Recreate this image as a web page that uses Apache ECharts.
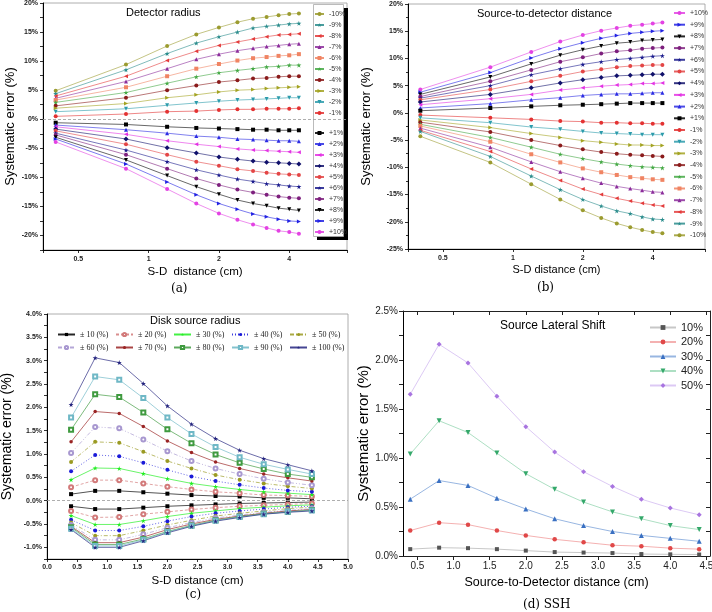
<!DOCTYPE html>
<html lang="en">
<head>
<meta charset="utf-8">
<title>Systematic error vs S-D distance</title>
<script src="https://cdn.jsdelivr.net/npm/echarts@6/dist/echarts.min.js"></script>
<style>
  html, body { margin: 0; padding: 0; background: #fff; }
  #chart { width: 712px; height: 612px; }
</style>
</head>
<body>
<div id="chart"></div>
<script>
// source-to-detector distances (cm), shared by all four panels
var distances = [0.4, 0.8, 1.2, 1.6, 2.0, 2.4, 2.8, 3.2, 3.6, 4.0, 4.4];

// (a) detector radius
var detLabels = ['-10%', '-9%', '-8%', '-7%', '-6%', '-5%', '-4%', '-3%', '-2%', '-1%',
                 '+1%', '+2%', '+3%', '+4%', '+5%', '+6%', '+7%', '+8%', '+9%', '+10%'];
var detValues = [
  [4.9, 9.4, 12.6, 14.6, 15.8, 16.7, 17.3, 17.6, 17.9, 18.1, 18.2],
  [4.4, 8.5, 11.3, 13.1, 14.2, 15.0, 15.7, 16.0, 16.2, 16.4, 16.5],
  [4.0, 7.4, 10.1, 11.7, 12.7, 13.3, 13.8, 14.2, 14.5, 14.6, 14.7],
  [3.6, 6.5, 8.7, 10.3, 11.2, 11.8, 12.2, 12.5, 12.7, 12.9, 13.0],
  [3.3, 5.5, 7.4, 8.7, 9.5, 10.1, 10.5, 10.7, 10.9, 11.0, 11.2],
  [2.9, 4.6, 6.2, 7.3, 8.0, 8.4, 8.7, 9.0, 9.1, 9.3, 9.3],
  [2.3, 3.7, 5.0, 5.8, 6.4, 6.7, 7.0, 7.1, 7.3, 7.4, 7.4],
  [1.9, 2.7, 3.7, 4.2, 4.7, 5.0, 5.1, 5.3, 5.4, 5.5, 5.6],
  [1.3, 1.8, 2.4, 2.8, 3.1, 3.3, 3.4, 3.5, 3.6, 3.7, 3.7],
  [0.5, 0.9, 1.3, 1.4, 1.6, 1.7, 1.7, 1.8, 1.8, 1.8, 1.9],
  [-0.6, -0.9, -1.3, -1.5, -1.6, -1.7, -1.8, -1.8, -1.9, -1.9, -1.9],
  [-1.0, -1.8, -2.4, -2.9, -3.1, -3.4, -3.5, -3.6, -3.7, -3.7, -3.8],
  [-1.3, -2.6, -3.7, -4.3, -4.7, -5.1, -5.3, -5.4, -5.5, -5.6, -5.7],
  [-1.7, -3.4, -4.9, -5.8, -6.5, -6.9, -7.2, -7.4, -7.5, -7.6, -7.7],
  [-2.0, -4.3, -6.1, -7.3, -8.0, -8.6, -8.9, -9.2, -9.4, -9.5, -9.6],
  [-2.4, -5.3, -7.3, -8.7, -9.6, -10.3, -10.7, -11.1, -11.3, -11.5, -11.6],
  [-2.7, -6.1, -8.5, -10.2, -11.3, -12.1, -12.6, -13.0, -13.3, -13.5, -13.6],
  [-3.1, -7.0, -9.7, -11.6, -12.9, -13.9, -14.5, -14.9, -15.3, -15.5, -15.7],
  [-3.4, -7.7, -10.8, -13.0, -14.5, -15.5, -16.3, -16.8, -17.2, -17.5, -17.6],
  [-3.9, -8.5, -12.0, -14.5, -16.2, -17.3, -18.1, -18.7, -19.2, -19.4, -19.7]
];

// (b) source-to-detector distance
var sdLabels = ['+10%', '+9%', '+8%', '+7%', '+6%', '+5%', '+4%', '+3%', '+2%', '+1%',
                '-1%', '-2%', '-3%', '-4%', '-5%', '-6%', '-7%', '-8%', '-9%', '-10%'];
var sdValues = [
  [4.3, 8.4, 11.2, 13.1, 14.3, 15.1, 15.6, 16.0, 16.2, 16.4, 16.6],
  [3.8, 7.4, 10.1, 11.8, 12.9, 13.7, 14.2, 14.6, 14.8, 15.0, 15.1],
  [3.4, 6.6, 9.0, 10.6, 11.6, 12.3, 12.8, 13.0, 13.3, 13.4, 13.5],
  [3.0, 5.8, 7.9, 9.4, 10.2, 10.9, 11.3, 11.5, 11.8, 11.9, 12.0],
  [2.7, 5.0, 7.0, 8.1, 8.9, 9.4, 9.8, 10.0, 10.2, 10.4, 10.5],
  [2.4, 4.3, 5.8, 6.8, 7.6, 8.0, 8.4, 8.6, 8.7, 8.8, 8.8],
  [2.0, 3.4, 4.6, 5.5, 6.1, 6.5, 6.8, 6.9, 7.0, 7.1, 7.1],
  [1.5, 2.6, 3.4, 4.2, 4.6, 4.9, 5.1, 5.2, 5.4, 5.4, 5.5],
  [0.9, 1.7, 2.4, 2.8, 3.2, 3.4, 3.5, 3.5, 3.6, 3.7, 3.7],
  [0.4, 0.9, 1.2, 1.4, 1.5, 1.6, 1.7, 1.8, 1.8, 1.8, 1.8],
  [-0.4, -0.9, -1.2, -1.5, -1.6, -1.8, -1.8, -1.9, -1.9, -2.0, -2.0],
  [-0.9, -1.8, -2.6, -3.0, -3.4, -3.7, -3.8, -3.9, -4.0, -4.0, -4.0],
  [-1.3, -2.7, -3.8, -4.5, -5.1, -5.4, -5.7, -5.9, -5.9, -6.0, -6.0],
  [-1.7, -3.5, -5.0, -6.0, -6.7, -7.2, -7.5, -7.7, -7.8, -7.9, -8.0],
  [-2.1, -4.5, -6.3, -7.6, -8.4, -9.0, -9.4, -9.7, -9.9, -10.0, -10.1],
  [-2.4, -5.3, -7.6, -9.1, -10.2, -10.9, -11.4, -11.8, -12.0, -12.2, -12.3],
  [-2.8, -6.3, -9.0, -10.8, -12.0, -12.9, -13.5, -13.9, -14.2, -14.5, -14.6],
  [-3.2, -7.1, -10.3, -12.4, -14.0, -15.0, -15.7, -16.2, -16.6, -16.9, -17.1],
  [-3.4, -8.0, -11.6, -14.1, -15.9, -17.1, -18.0, -18.5, -19.1, -19.5, -19.6],
  [-4.3, -9.1, -13.1, -15.9, -17.9, -19.3, -20.3, -21.0, -21.5, -21.9, -22.1]
];

// (c) disk source radius, upper (+) and lower (-) branches
var diskLabels = ['\u00b1 10 (%)', '\u00b1 20 (%)', '\u00b1 30 (%)', '\u00b1 40 (%)', '\u00b1 50 (%)',
                  '\u00b1 60 (%)', '\u00b1 70 (%)', '\u00b1 80 (%)', '\u00b1 90 (%)', '\u00b1 100 (%)'];
var diskUpper = [
  [0.14, 0.21, 0.21, 0.18, 0.15, 0.12, 0.10, 0.09, 0.06, 0.06, 0.04],
  [0.29, 0.44, 0.44, 0.37, 0.30, 0.24, 0.19, 0.16, 0.12, 0.11, 0.09],
  [0.45, 0.70, 0.69, 0.58, 0.47, 0.37, 0.30, 0.24, 0.19, 0.16, 0.13],
  [0.63, 0.98, 0.95, 0.81, 0.66, 0.52, 0.42, 0.34, 0.27, 0.22, 0.19],
  [0.83, 1.26, 1.24, 1.05, 0.85, 0.69, 0.55, 0.45, 0.37, 0.31, 0.26],
  [1.02, 1.58, 1.55, 1.31, 1.06, 0.85, 0.69, 0.57, 0.47, 0.39, 0.33],
  [1.26, 1.91, 1.87, 1.59, 1.28, 1.03, 0.83, 0.69, 0.57, 0.49, 0.42],
  [1.52, 2.28, 2.22, 1.89, 1.53, 1.23, 0.99, 0.81, 0.68, 0.57, 0.50],
  [1.78, 2.66, 2.59, 2.20, 1.78, 1.43, 1.15, 0.93, 0.78, 0.67, 0.57],
  [2.06, 3.06, 2.96, 2.51, 2.03, 1.64, 1.33, 1.08, 0.90, 0.77, 0.64]
];
var diskLower = [
  [-0.12, -0.18, -0.18, -0.15, -0.12, -0.10, -0.08, -0.06, -0.05, -0.04, -0.03],
  [-0.22, -0.36, -0.35, -0.29, -0.24, -0.19, -0.15, -0.12, -0.10, -0.08, -0.06],
  [-0.32, -0.51, -0.51, -0.43, -0.34, -0.27, -0.22, -0.17, -0.14, -0.11, -0.09],
  [-0.41, -0.64, -0.64, -0.55, -0.44, -0.34, -0.27, -0.22, -0.18, -0.14, -0.12],
  [-0.47, -0.75, -0.75, -0.64, -0.52, -0.42, -0.33, -0.27, -0.22, -0.17, -0.14],
  [-0.52, -0.84, -0.84, -0.72, -0.58, -0.47, -0.37, -0.31, -0.25, -0.21, -0.17],
  [-0.55, -0.90, -0.90, -0.78, -0.62, -0.50, -0.40, -0.33, -0.27, -0.22, -0.19],
  [-0.57, -0.94, -0.94, -0.82, -0.66, -0.53, -0.42, -0.34, -0.28, -0.24, -0.20],
  [-0.60, -0.97, -0.97, -0.84, -0.67, -0.54, -0.43, -0.35, -0.29, -0.24, -0.21],
  [-0.62, -1.00, -1.00, -0.86, -0.69, -0.55, -0.44, -0.36, -0.29, -0.25, -0.22]
];

// (d) source lateral shift
var sshLabels = ['10%', '20%', '30%', '40%', '50%'];
var sshValues = [
  [0.07, 0.085, 0.08, 0.07, 0.055, 0.04, 0.035, 0.03, 0.02, 0.017, 0.015],
  [0.26, 0.34, 0.32, 0.26, 0.21, 0.17, 0.14, 0.11, 0.10, 0.08, 0.07],
  [0.58, 0.77, 0.72, 0.59, 0.48, 0.38, 0.31, 0.25, 0.21, 0.18, 0.15],
  [1.04, 1.38, 1.26, 1.05, 0.84, 0.68, 0.55, 0.45, 0.38, 0.31, 0.27],
  [1.65, 2.16, 1.97, 1.63, 1.32, 1.06, 0.86, 0.71, 0.58, 0.49, 0.42]
];

// tick labels shown on the log-scale distance axes of (a) and (b)
var logLabels = [0.5, 1, 2, 4];

var SANS = 'Liberation Sans';
var STAR = 'path://M50 0L61 35L98 35L68 57L79 91L50 70L21 91L32 57L2 35L39 35Z';

var pctStyles = {
  '-10%': {color: '#9b9b2f', symbol: 'circle'},
  '-9%': {color: '#2a8c8c', symbol: STAR, size: 5},
  '-8%': {color: '#e33b3b', symbol: 'triangle', rot: 90},
  '-7%': {color: '#8b2c9b', symbol: 'triangle'},
  '-6%': {color: '#f08463', symbol: 'rect'},
  '-5%': {color: '#43a843', symbol: STAR, size: 5},
  '-4%': {color: '#8a1b1b', symbol: 'circle'},
  '-3%': {color: '#a3a322', symbol: 'triangle', rot: -90},
  '-2%': {color: '#2b9bab', symbol: 'triangle', rot: 180},
  '-1%': {color: '#e33232', symbol: 'circle'},
  '+1%': {color: '#000000', symbol: 'rect'},
  '+2%': {color: '#2b2be3', symbol: 'triangle'},
  '+3%': {color: '#e333e3', symbol: 'triangle', rot: 90},
  '+4%': {color: '#10106b', symbol: 'diamond', size: 5},
  '+5%': {color: '#e34545', symbol: 'circle'},
  '+6%': {color: '#1a1a8c', symbol: STAR, size: 5},
  '+7%': {color: '#7d1f7d', symbol: 'circle'},
  '+8%': {color: '#000000', symbol: 'triangle', rot: 180},
  '+9%': {color: '#2222e3', symbol: 'triangle', rot: -90},
  '+10%': {color: '#e342e3', symbol: 'circle'}
};
var diskStyles = [
  {color: '#000000', symbol: 'rect', type: 'solid'},
  {color: '#d27a7a', symbol: 'emptyCircle', type: [3, 2]},
  {color: '#22ee22', symbol: STAR, type: 'solid', size: 5},
  {color: '#1a1ad8', symbol: 'circle', type: [1, 2]},
  {color: '#9a9a22', symbol: 'circle', type: [4, 2, 1, 2]},
  {color: '#a898d0', symbol: 'emptyCircle', type: [4, 2, 1, 2, 1, 2]},
  {color: '#9a2424', symbol: 'circle', type: 'solid', size: 3.5},
  {color: '#3f9a3f', symbol: 'emptyRect', type: 'solid'},
  {color: '#6fb8c6', symbol: 'emptyRect', type: 'solid'},
  {color: '#25257f', symbol: STAR, type: 'solid', size: 5}
];
var sshStyles = [
  {color: '#555555', line: '#bdbdbd', symbol: 'rect', size: 4},
  {color: '#e04848', line: '#f2a3a3', symbol: 'circle', size: 4.5},
  {color: '#3a70c2', line: '#86a9dc', symbol: 'triangle', size: 5},
  {color: '#34a86a', line: '#9fd9b8', symbol: 'triangle', rot: 180, size: 5},
  {color: '#a874e0', line: '#d6c0f2', symbol: 'diamond', size: 5}
];

var series = [];
function addLine(name, idx, vals, st, lineWidth) {
  var s = {
    type: 'line', name: name, xAxisIndex: idx, yAxisIndex: idx,
    data: distances.map(function (d, i) { return [d, vals[i]]; }),
    symbol: st.symbol, symbolSize: st.size || 4, symbolRotate: st.rot || 0,
    showSymbol: true, silent: true,
    itemStyle: {color: st.color, borderWidth: 0.8},
    lineStyle: {color: st.line || st.color, width: lineWidth, type: st.type || 'solid', opacity: 0.85},
    emphasis: {disabled: true}
  };
  series.push(s);
  return s;
}
var zeroLine = {
  silent: true, symbol: 'none', animation: false, label: {show: false},
  lineStyle: {color: '#999', type: [3, 2], width: 0.8},
  data: [{yAxis: 0}]
};

detLabels.forEach(function (n, i) {
  var s = addLine(n, 0, detValues[i], pctStyles[n], 0.7);
  if (i === 0) s.markLine = zeroLine;
});
sdLabels.forEach(function (n, i) { addLine(n, 1, sdValues[i], pctStyles[n], 0.7); });
diskLabels.forEach(function (n, i) {
  var s = addLine(n, 2, diskUpper[i], diskStyles[i], 0.8);
  if (i === 0) s.markLine = zeroLine;
  addLine(n, 2, diskLower[i], diskStyles[i], 0.8);
});
sshLabels.forEach(function (n, i) { addLine(n, 3, sshValues[i], sshStyles[i], 1); });

function logX(grid, min, max, name, gap, size) {
  return {
    type: 'log', logBase: 2, gridIndex: grid, min: min, max: max,
    axisLine: {show: true, onZero: false, lineStyle: {color: '#000', width: 1}},
    axisTick: {show: true, length: 3, lineStyle: {color: '#000', width: 0.8}},
    axisLabel: {fontSize: 7, fontWeight: 'bold', color: '#222', margin: 6, fontFamily: SANS,
      formatter: function (v) {
        var r = +(+v).toPrecision(3);
        return logLabels.indexOf(r) >= 0 ? String(r) : '';
      }},
    splitLine: {show: false},
    name: name, nameLocation: 'middle', nameGap: gap,
    nameTextStyle: {fontSize: size, color: '#000', fontFamily: SANS}
  };
}
function valY(grid, min, max, interval, fmt, name, gap, size, labelSize) {
  return {
    type: 'value', gridIndex: grid, min: min, max: max, interval: interval,
    axisLine: {show: true, onZero: false, lineStyle: {color: '#000', width: 1}},
    axisTick: {show: true, length: 3, lineStyle: {color: '#000', width: 0.8}},
    axisLabel: {fontSize: labelSize, fontWeight: labelSize < 9 ? 'bold' : 'normal', color: '#222', margin: 5, fontFamily: SANS, formatter: fmt},
    splitLine: {show: false},
    name: name, nameLocation: 'middle', nameGap: gap,
    nameTextStyle: {fontSize: size, color: '#000', fontFamily: SANS}
  };
}
function pctInt(v) { return v % 5 === 0 ? v + '%' : ''; }
function pctHalf(v) { return (v * 2) % 1 === 0 ? v.toFixed(1) + '%' : ''; }

var frame = {show: true, borderColor: '#9a9a9a', borderWidth: 0.8, backgroundColor: 'transparent'};
function grid(l, t, w, h, framed) {
  var g = {left: l, top: t, width: w, height: h, containLabel: false, outerBoundsMode: 'none'};
  if (framed) Object.assign(g, frame);
  return g;
}

var sshTicks = [0.5, 1.0, 1.5, 2.0, 2.5, 3.0, 3.5, 4.0, 4.5];

function legendBase(extra) {
  return Object.assign({
    orient: 'vertical', padding: 0, selectedMode: false, z: 6,
    itemWidth: 9, itemHeight: 5, itemGap: 3,
    textStyle: {fontSize: 7, color: '#333', lineHeight: 8, fontFamily: SANS}
  }, extra);
}

var option = {
  animation: false,
  backgroundColor: '#fff',
  grid: [
    grid(43, 3, 304, 247, true),
    grid(408, 4, 297, 245, true),
    grid(47, 314, 301, 245, true),
    grid(403, 311, 307, 245, false)
  ],
  xAxis: [
    logX(0, 0.353, 7.07, 'S-D  distance (cm)', 16, 11.5),
    logX(1, 0.354, 6.71, 'S-D distance (cm)', 15, 11),
    {
      type: 'value', gridIndex: 2, min: 0, max: 5, interval: 0.5,
      axisLine: {show: true, onZero: false, lineStyle: {color: '#000', width: 1}},
      axisTick: {show: true, length: 3, lineStyle: {color: '#000', width: 0.8}},
      minorTick: {show: true, splitNumber: 2, length: 2, lineStyle: {color: '#000', width: 0.8}},
      axisLabel: {fontSize: 7, fontWeight: 'bold', color: '#222', margin: 5, fontFamily: SANS,
        formatter: function (v) { return v.toFixed(1); }},
      splitLine: {show: false},
      name: 'S-D distance (cm)', nameLocation: 'middle', nameGap: 16,
      nameTextStyle: {fontSize: 11.5, color: '#000', fontFamily: SANS}
    },
    {
      type: 'value', gridIndex: 3, min: 0.3, max: 4.55,
      axisLine: {show: true, onZero: false, lineStyle: {color: '#222', width: 1}},
      axisTick: {show: true, length: 4, customValues: sshTicks, lineStyle: {color: '#222'}},
      axisLabel: {customValues: sshTicks, fontSize: 10, color: '#222', margin: 5, fontFamily: SANS,
        formatter: function (v) { return v.toFixed(1); }},
      splitLine: {show: false},
      name: 'Source-to-Detector distance (cm)', nameLocation: 'middle', nameGap: 20,
      nameTextStyle: {fontSize: 12.5, color: '#000', fontFamily: SANS}
    },
    {
      type: 'value', gridIndex: 3, position: 'top', min: 0.3, max: 4.55,
      axisLine: {show: true, onZero: false, lineStyle: {color: '#222', width: 1}},
      axisTick: {show: true, inside: true, length: 4, customValues: sshTicks, lineStyle: {color: '#222'}},
      axisLabel: {show: false}, splitLine: {show: false}
    }
  ],
  yAxis: [
    valY(0, -22.5, 20, 2.5, pctInt, 'Systematic error (%)', 26, 13, 7),
    Object.assign(valY(1, -25, 20, 5, function (v) { return v + '%'; }, 'Systematic error (%)', 35, 13, 7),
      {minorTick: {show: true, splitNumber: 2, length: 2, lineStyle: {color: '#000', width: 0.8}}}),
    valY(2, -1.25, 4, 0.25, pctHalf, 'Systematic error (%)', 33, 14, 7),
    Object.assign(valY(3, 0, 2.5, 0.25, pctHalf, 'Systematic error (%)', 29, 15, 10),
      {axisTick: {show: true, length: 4, lineStyle: {color: '#222'}}}),
    {
      type: 'value', gridIndex: 3, position: 'right', min: 0, max: 2.5, interval: 0.25,
      axisLine: {show: true, onZero: false, lineStyle: {color: '#222', width: 1}},
      axisTick: {show: true, inside: true, length: 4, lineStyle: {color: '#222'}},
      axisLabel: {show: false}, splitLine: {show: false}
    }
  ],
  title: [
    {text: 'Detector radius', left: 126, top: 7},
    {text: 'Source-to-detector distance', left: 477, top: 8},
    {text: 'Disk source radius', left: 150, top: 315},
    {text: 'Source Lateral Shift', left: 500, top: 320, fontSize: 12},
    {text: '(a)', left: 171, top: 283, serif: true},
    {text: '(b)', left: 537, top: 282, serif: true},
    {text: '(c)', left: 185, top: 589, serif: true},
    {text: '(d) SSH', left: 523, top: 599, serif: true}
  ].map(function (t) {
    return {
      text: t.text, left: t.left, top: t.top, padding: 0,
      textStyle: {
        fontSize: t.serif ? 12 : (t.fontSize || 11), fontWeight: 'normal', color: '#000',
        fontFamily: t.serif ? 'DejaVu Serif' : SANS
      }
    };
  }),
  legend: [
    legendBase({data: detLabels.slice(0, 10), left: 314, top: 10}),
    legendBase({data: detLabels.slice(10), left: 314, top: 129}),
    legendBase({data: sdLabels, left: 673, top: 9, itemWidth: 11, itemGap: 3.7}),
    legendBase({
      data: diskLabels.slice(0, 5), orient: 'horizontal', left: 57, top: 330,
      itemWidth: 17, itemHeight: 4, itemGap: 0,
      textStyle: {fontSize: 8, color: '#222', lineHeight: 9, width: 35, fontFamily: 'Liberation Serif'}
    }),
    legendBase({
      data: diskLabels.slice(5), orient: 'horizontal', left: 57, top: 343,
      itemWidth: 17, itemHeight: 4, itemGap: 0,
      textStyle: {fontSize: 8, color: '#222', lineHeight: 9, width: 35, fontFamily: 'Liberation Serif'}
    }),
    legendBase({
      data: sshLabels, left: 649, top: 321, itemWidth: 26, itemHeight: 6, itemGap: 1.5,
      textStyle: {fontSize: 11, color: '#222', lineHeight: 13, fontFamily: SANS}
    })
  ],
  graphic: [
    {type: 'rect', z: 3, silent: true, shape: {x: 317, y: 8, width: 31, height: 232}, style: {fill: '#000'}},
    {type: 'rect', z: 4, silent: true, shape: {x: 313.5, y: 4.5, width: 30, height: 232},
      style: {fill: '#fff', stroke: '#aaa', lineWidth: 0.8}}
  ],
  series: series
};

var chart = echarts.init(document.getElementById('chart'), null, {renderer: 'canvas'});
chart.setOption(option);
</script>
</body>
</html>
